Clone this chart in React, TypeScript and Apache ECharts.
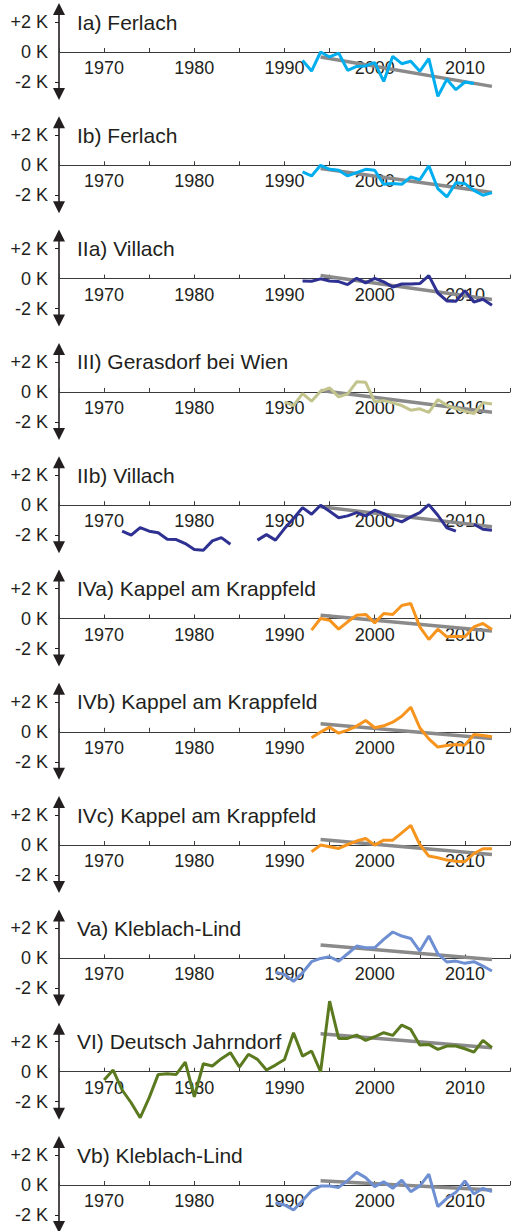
import React, { useEffect, useRef } from 'react';
import * as echarts from 'echarts';

// ---------- data ----------
const titles = [
  'Ia) Ferlach',
  'Ib) Ferlach',
  'IIa) Villach',
  'III) Gerasdorf bei Wien',
  'IIb) Villach',
  'IVa) Kappel am Krappfeld',
  'IVb) Kappel am Krappfeld',
  'IVc) Kappel am Krappfeld',
  'Va) Kleblach-Lind',
  'VI) Deutsch Jahrndorf',
  'Vb) Kleblach-Lind',
];

const startYears = [1992, 1992, 1992, 1990, 1972, 1993, 1993, 1993, 1989, 1970, 1989];

const ferlachA = [-0.56, -1.27, 0.0, -0.33, -0.07, -1.22, -0.96, -0.93, -0.71, -1.96, -0.29, -0.78, -0.62, -1.29, -0.44, -2.96, -1.82, -2.51, -2.0, -2.1];
const ferlachB = [-0.44, -0.71, 0, -0.27, -0.33, -0.71, -0.49, -0.27, -0.33, -1.27, -1.22, -1.27, -0.78, -0.96, -0.04, -1.56, -2.11, -1.16, -1.22, -1.67, -2.0, -1.82];
const villachA = [-0.16, -0.18, -0.02, -0.16, -0.2, -0.4, 0.02, -0.29, 0.02, -0.22, -0.56, -0.36, -0.36, -0.33, 0.2, -0.96, -1.49, -1.51, -0.8, -1.56, -1.38, -1.78];
const gerasdorf = [-0.67, -0.91, -0.11, -0.62, 0.04, 0.27, -0.33, -0.13, 0.67, 0.64, -0.67, -0.58, -0.73, -0.91, -1.22, -1.13, -1.36, -0.51, -0.89, -1.11, -1.29, -1.44, -0.73, -0.8];
const villachB = [
  -1.73, -2.0, -1.49, -1.73, -1.84, -2.27, -2.29, -2.56, -2.96, -3.0, -2.38, -2.16, -2.6,
  null, null,
  -2.33, -1.96, -2.33, -1.56, -0.89, -0.16, -0.6, 0, -0.4, -0.84, -0.71, -0.49, -0.71, -0.33, -0.56, -0.89, -1.11, -0.78, -0.49, 0.04, -0.67, -1.51, -1.73,
  null,
  -1.27, -1.6, -1.67,
];
const kappelA = [-0.78, 0, -0.11, -0.71, -0.22, 0.22, 0.27, -0.29, 0.33, 0.27, 0.87, 1.0, -0.56, -1.4, -0.71, -1.22, -1.18, -1.22, -0.56, -0.33, -0.73];
const kappelB = [-0.4, -0.02, 0.31, -0.09, 0.11, 0.38, 0.76, 0.27, 0.4, 0.64, 1.04, 1.64, 0.27, -0.47, -1.02, -0.91, -0.84, -0.89, -0.18, -0.24, -0.33];
const kappelC = [-0.44, 0, -0.11, -0.22, 0.04, 0.27, 0.44, 0, 0.33, 0.33, 0.82, 1.31, 0.04, -0.73, -0.84, -1.0, -1.07, -1.11, -0.56, -0.24, -0.24];
const kleblachA = [-0.93, -1.07, -1.53, -0.96, -0.22, 0, 0.11, -0.18, 0.31, 0.82, 0.71, 0.71, 1.27, 1.76, 1.49, 1.33, 0.49, 1.49, 0.31, -0.24, -0.18, -0.33, -0.22, -0.51, -0.84];
const deutschJ = [-0.56, 0.11, -1.22, -2.07, -3.07, -1.73, -0.18, -0.13, -0.18, 0.64, -1.67, 0.53, 0.38, 0.87, 1.27, 0.31, 1.16, 0.82, 0.11, 0.44, 0.82, 2.6, 1.04, 1.38, 0, 4.7, 2.22, 2.22, 2.44, 2.09, 2.33, 2.6, 2.42, 3.11, 2.82, 1.78, 1.82, 1.49, 1.71, 1.71, 1.53, 1.31, 2.09, 1.6];
const kleblachB = [-1.18, -1.33, -1.67, -1.04, -0.38, -0.07, -0.07, -0.16, 0.29, 0.84, 0.49, -0.11, 0.22, -0.22, 0.33, -0.44, -0.07, 0.73, -1.44, -0.89, -0.49, 0.27, -0.6, -0.22, -0.44];

const seriesValues = [ferlachA, ferlachB, villachA, gerasdorf, villachB, kappelA, kappelB, kappelC, kleblachA, deutschJ, kleblachB];

const trendYears = [1994, 2013];
const trendValues = [
  [-0.33, -2.29],
  [-0.22, -1.82],
  [0.2, -1.4],
  [0.1, -1.36],
  [-0.11, -1.44],
  [0.22, -0.84],
  [0.53, -0.44],
  [0.38, -0.62],
  [0.89, -0.07],
  [2.53, 1.6],
  [0.29, -0.33],
];

const lineColors = ['#00aeef', '#00aeef', '#2e3192', '#c3c48d', '#2e3192', '#f7941d', '#f7941d', '#f7941d', '#6e8fd2', '#5b7a1f', '#6e8fd2'];

const yTickValues = [-2, 0, 2];
const yTickLabels = ['-2 K', '0 K', '+2 K'];
const xLabelYears = [1970, 1980, 1990, 2000, 2010];

// ---------- layout ----------
const FONT = "'Liberation Sans', Arial, Helvetica, sans-serif";
const TEXT = '#231f20';
const PANEL0 = 52;
const PANEL_STEP = 113.3;
const PX_PER_K = 15;
const Y_MAX = 2.867;
const Y_MIN = -2.8;
const GRID_LEFT = 59;
const GRID_WIDTH = 453;

export default function App() {
  const ref = useRef<HTMLDivElement>(null);

  useEffect(() => {
    document.body.style.margin = '0';
    const chart = echarts.init(ref.current as HTMLDivElement, null, { renderer: 'svg' });

    const grids: any[] = [];
    const xAxes: any[] = [];
    const yAxes: any[] = [];
    const series: any[] = [];
    const graphics: any[] = [];

    titles.forEach((title, i) => {
      const zero = PANEL0 + i * PANEL_STEP;
      grids.push({
        left: GRID_LEFT,
        width: GRID_WIDTH,
        top: zero - Y_MAX * PX_PER_K,
        height: (Y_MAX - Y_MIN) * PX_PER_K,
        containLabel: false,
      });
      xAxes.push({
        gridIndex: i,
        type: 'value',
        position: 'bottom',
        offset: Y_MIN * PX_PER_K,
        min: 1965,
        max: 2015,
        interval: 5,
        axisLine: { show: true, onZero: false, lineStyle: { color: '#3a3a3a', width: 1 } },
        axisTick: { show: true, inside: true, length: 4, lineStyle: { color: '#3a3a3a', width: 1 } },
        axisLabel: {
          show: true,
          margin: 7,
          fontSize: 18,
          color: TEXT,
          fontFamily: FONT,
          formatter: (v: number) => (xLabelYears.includes(Math.round(v)) ? String(Math.round(v)) : ''),
        },
        splitLine: { show: false },
      });
      yAxes.push({
        gridIndex: i,
        type: 'value',
        min: Y_MIN,
        max: Y_MAX,
        axisLine: {
          show: true,
          onZero: false,
          symbol: ['triangle', 'triangle'],
          symbolSize: [12, 12],
          lineStyle: { color: TEXT, width: 1.6 },
        },
        axisTick: { show: true, customValues: [-2, 2], length: 4, lineStyle: { color: TEXT, width: 1 } },
        axisLabel: {
          show: true,
          customValues: yTickValues,
          margin: 11,
          fontSize: 18,
          color: TEXT,
          fontFamily: FONT,
          formatter: (v: number) => {
            const k = yTickValues.indexOf(Math.round(v));
            return k >= 0 ? yTickLabels[k] : '';
          },
        },
        splitLine: { show: false },
      });
      const tv = trendValues[i];
      series.push({
        type: 'line',
        xAxisIndex: i,
        yAxisIndex: i,
        data: trendYears.map((y, k) => [y, tv[k]]),
        showSymbol: false,
        symbol: 'none',
        clip: false,
        lineStyle: { color: '#8a8a8a', width: 3.5 },
        z: 3,
      });
      const vals = seriesValues[i];
      series.push({
        type: 'line',
        xAxisIndex: i,
        yAxisIndex: i,
        data: vals.map((v, k) => [startYears[i] + k, v === null ? '-' : v]),
        showSymbol: false,
        symbol: 'none',
        clip: false,
        connectNulls: false,
        lineStyle: { color: lineColors[i], width: 3 },
        z: 4,
      });
      graphics.push({
        type: 'text',
        x: 77,
        y: zero - 2 * PX_PER_K,
        style: {
          text: title,
          fontSize: 21,
          fontFamily: FONT,
          fill: TEXT,
          verticalAlign: 'middle',
        },
      });
    });

    chart.setOption({
      animation: false,
      backgroundColor: '#ffffff',
      grid: grids,
      xAxis: xAxes,
      yAxis: yAxes,
      series,
      graphic: graphics,
    });

    return () => chart.dispose();
  }, []);

  return <div ref={ref} style={{ width: 513, height: 1231 }} />;
}
